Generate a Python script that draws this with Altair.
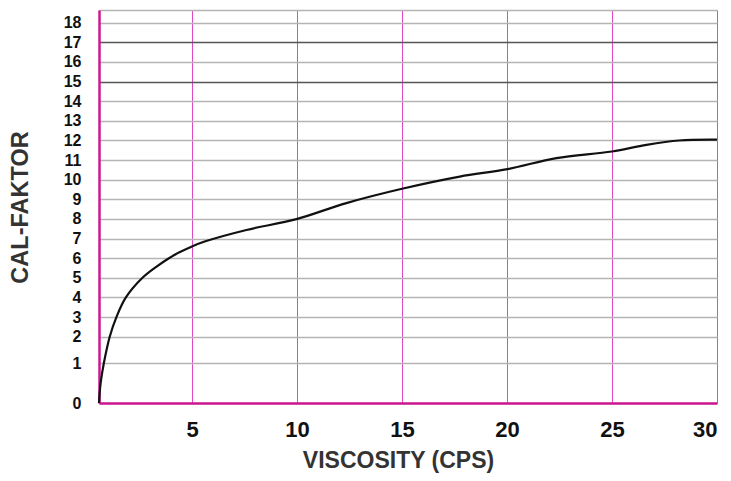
import altair as alt
import pandas as pd

# curve
viscosity = [0.57, 0.6, 0.66, 0.8, 1.08, 1.4, 1.85, 2.64, 3.28, 3.9, 4.4, 4.97, 5.6,
             7.59, 9.97, 12.35, 15.0, 17.75, 20.02, 22.35, 25.0, 26.64, 28.2, 30.0]
cal_faktor = [0.0, 0.25, 0.55, 1.0, 2.0, 3.0, 4.0, 5.0, 5.55, 6.0, 6.3, 6.59, 6.85,
              7.44, 7.99, 8.81, 9.54, 10.16, 10.54, 11.1, 11.44, 11.78, 12.0, 12.04]

x_ticks = [5, 10, 15, 20, 25, 30]
y_ticks = list(range(0, 19)) + [18.65]

df = pd.DataFrame({"v": viscosity, "c": cal_faktor})

MAGENTA = "#cc1890"
MAGENTA_LIGHT = "#e048c4"
FONT = "Liberation Sans"

x_enc = alt.X(
    "v:Q",
    scale=alt.Scale(domain=[0.57, 30], nice=False, zero=False),
    axis=alt.Axis(
        values=x_ticks,
        title="VISCOSITY (CPS)",
        grid=True,
        gridColor=MAGENTA_LIGHT,
        gridWidth=1,
        domainColor=MAGENTA,
        domainWidth=2.5,
        ticks=False,
        labelPadding=16,
        labelFontSize=22,
        labelFont=FONT,
        labelFontWeight="bold",
        labelColor="#111111",
        titleFont=FONT,
        titleFontSize=23,
        titleFontWeight="bold",
        titleColor="#333333",
        titleX=299,
        titleY=57,
        titleBaseline="middle",
        titleAlign="center",
    ),
)

y_enc = alt.Y(
    "c:Q",
    scale=alt.Scale(domain=[0, 1, 2, 18.65], range=[393, 353.3, 326.7, 0], nice=False, zero=False),
    axis=alt.Axis(
        values=y_ticks,
        labelExpr="datum.value > 18.5 ? '' : datum.label",
        title="CAL-FAKTOR",
        grid=True,
        gridColor={
            "condition": {"test": "datum.value == 15 || datum.value == 17", "value": "#555555"},
            "value": "#b4b4b4",
        },
        gridWidth=1.5,
        domainColor=MAGENTA,
        domainWidth=2.5,
        ticks=False,
        labelPadding=18,
        labelFontSize=16,
        labelFont=FONT,
        labelFontWeight="bold",
        labelColor="#111111",
        titleFont=FONT,
        titleFontSize=23.5,
        titleFontWeight="bold",
        titleColor="#333333",
        titleX=-79,
        titleY=197,
        titleBaseline="middle",
        titleAlign="center",
        titleAngle=270,
    ),
)

chart = (
    alt.Chart(df)
    .mark_line(color="#111111", strokeWidth=2.2, interpolate="catmull-rom")
    .encode(x=x_enc, y=y_enc)
    .properties(
        width=618,
        height=393,
        autosize=alt.AutoSizeParams(type="none"),
        padding={"left": 91, "top": 2, "right": 6, "bottom": 70},
    )
    .configure_view(stroke=None)
    .configure(background="white")
)

chart.save("out.html", embed_options={"renderer": "svg", "actions": False})
